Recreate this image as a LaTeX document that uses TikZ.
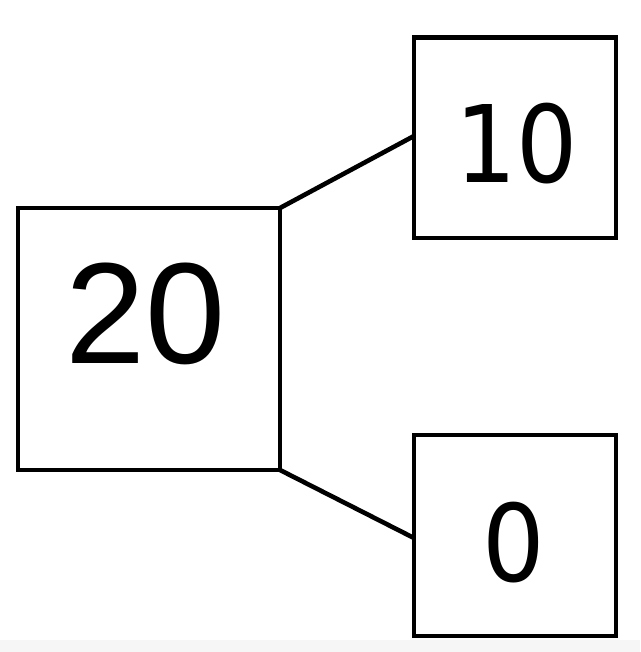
\documentclass[tikz,border=0pt]{standalone}
\usepackage{fontspec}
\setmainfont{Liberation Sans}
\newfontfamily\smallfont{DejaVu Sans}
\begin{document}
\begin{tikzpicture}[x=1pt,y=-1pt,
  boxline/.style={line width=4.8pt,line join=miter},
  conn/.style={line width=4.6pt},
  lbl/.style={inner sep=0pt,outer sep=0pt}]
\useasboundingbox (0,0) rectangle (640,652);
\fill[gray!7] (0,640) rectangle (640,652);
\draw[boxline] (18,208) rectangle (280,470);
\draw[boxline] (414,37.5) rectangle (616,238);
\draw[boxline] (414,435) rectangle (616,636);
\coordinate (a1) at (280,208);
\coordinate (a2) at (280,470);
\coordinate (b1) at (414,136);
\coordinate (b2) at (414,538);
\draw[conn] (a1) -- (b1);
\draw[conn] (a2) -- (b2);
\node[lbl,font=\fontsize{144}{150}\selectfont] (t20) at (146,314) {20};
\node[lbl] (t10) at (517,144) {\scalebox{0.9}[1]{\smallfont\fontsize{107}{110}\selectfont 10}};
\node[lbl] (t0) at (514,543) {\scalebox{0.92}[1]{\smallfont\fontsize{107}{110}\selectfont 0}};
\end{tikzpicture}
\end{document}
